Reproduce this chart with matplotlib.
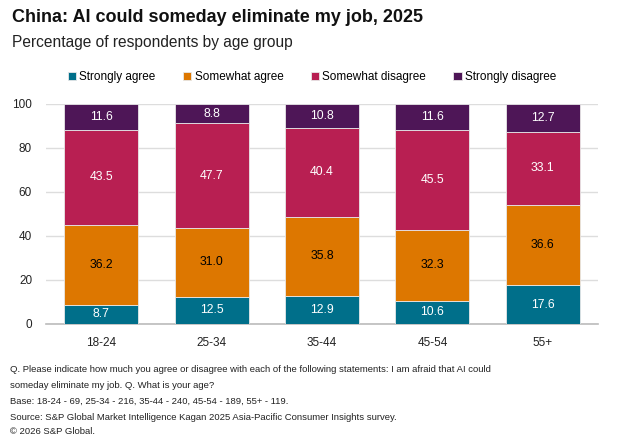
import matplotlib.pyplot as plt
import numpy as np

plt.rcParams['font.family'] = ['Liberation Sans', 'DejaVu Sans']

# data
ages = ['18-24', '25-34', '35-44', '45-54', '55+']
strongly_agree = [8.7, 12.5, 12.9, 10.6, 17.6]
somewhat_agree = [36.2, 31.0, 35.8, 32.3, 36.6]
somewhat_disagree = [43.5, 47.7, 40.4, 45.5, 33.1]
strongly_disagree = [11.6, 8.8, 10.8, 11.6, 12.7]

series = [
    ('Strongly agree', strongly_agree, '#006f8a', 'white'),
    ('Somewhat agree', somewhat_agree, '#dd7700', 'black'),
    ('Somewhat disagree', somewhat_disagree, '#b81f52', 'white'),
    ('Strongly disagree', strongly_disagree, '#4e1657', 'white'),
]

fig = plt.figure(figsize=(6.19, 4.43), dpi=100)
ax = fig.add_axes([46 / 619, 119 / 443, 552 / 619, 220 / 443])

x = np.arange(len(ages))
bottom = np.zeros(len(ages))
for name, vals, col, tcol in series:
    vals = np.array(vals)
    ax.bar(x, vals, 0.67, bottom=bottom, color=col, label=name,
           edgecolor='#e8e8e8', linewidth=0.6, zorder=3)
    for xi, b, v in zip(x, bottom, vals):
        ax.text(xi, b + v / 2, f'{v:.1f}', ha='center', va='center',
                color=tcol, fontsize=8.8, zorder=4)
    bottom += vals

ax.set_xlim(-0.5, 4.5)
ax.set_ylim(0, 100)
ax.set_yticks([0, 20, 40, 60, 80, 100])
ax.set_xticks(x)
ax.set_xticklabels(ages)
ax.tick_params(length=0, labelsize=8.5, colors='#222222')
ax.tick_params(axis='x', pad=9)
ax.tick_params(axis='y', pad=10)
ax.grid(axis='y', color='#dddddd', linewidth=1, zorder=0)
for s in ['top', 'right', 'left']:
    ax.spines[s].set_visible(False)
ax.spines['bottom'].set_color('#bbbbbb')
ax.spines['bottom'].set_linewidth(1.2)

leg = fig.legend(loc='center', bbox_to_anchor=(312 / 619, 1 - 77 / 443), ncol=4,
                 frameon=False, fontsize=8.5, handlelength=0.7, handleheight=0.7,
                 handletextpad=0.3, columnspacing=2.3)

fig.text(12 / 619, 1 - 18 / 443, 'China: AI could someday eliminate my job, 2025',
         fontsize=13, fontweight='bold', va='center', color='#111111')
fig.text(12 / 619, 1 - 42 / 443, 'Percentage of respondents by age group',
         fontsize=11.2, va='center', color='#222222')

notes = [
    (370, 'Q. Please indicate how much you agree or disagree with each of the following statements: I am afraid that AI could'),
    (385, 'someday eliminate my job. Q. What is your age?'),
    (401, 'Base: 18-24 - 69, 25-34 - 216, 35-44 - 240, 45-54 - 189, 55+ - 119.'),
    (417, 'Source: S&P Global Market Intelligence Kagan 2025 Asia-Pacific Consumer Insights survey.'),
    (432, '\u00a9 2026 S&P Global.'),
]
for yp, t in notes:
    fig.text(10 / 619, 1 - yp / 443, t, fontsize=6.8, va='center', color='#222222')

fig.savefig('out.png', dpi=100)
